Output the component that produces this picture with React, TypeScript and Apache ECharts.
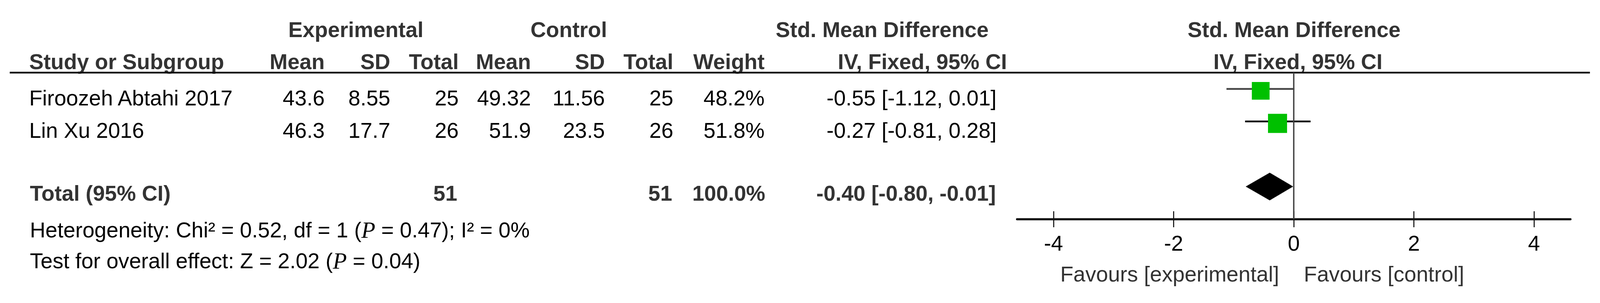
import React, { useEffect, useRef, useState } from "react";
import * as echarts from "echarts";

// ---- data ----
const studies = ["Firoozeh Abtahi 2017", "Lin Xu 2016"];
const expMean = [43.6, 46.3];
const expSD = [8.55, 17.7];
const expTotal = [25, 26];
const ctrlMean = [49.32, 51.9];
const ctrlSD = [11.56, 23.5];
const ctrlTotal = [25, 26];
const weights = [48.2, 51.8];
const smd = [-0.55, -0.27];
const ciLow = [-1.12, -0.81];
const ciHigh = [0.01, 0.28];
const totalSmd = [-0.4];
const totalLow = [-0.8];
const totalHigh = [-0.01];
const hetChi2 = 0.52;
const hetDf = 1;
const hetP = 0.47;
const hetI2 = 0;
const zValue = 2.02;
const zP = 0.04;
const axisTicks = [-4, -2, 0, 2, 4];
const favourLabels = ["Favours [experimental]", "Favours [control]"];

const FONT = "'Liberation Sans', Arial, Helvetica, sans-serif";
const SERIF = "'Liberation Serif', 'Times New Roman', serif";
const DW = 4608;
const DH = 776;

const f2 = (v: number) => v.toFixed(2);
const ciText = (e: number, l: number, h: number) => `${f2(e)} [${f2(l)}, ${f2(h)}]`;

export default function App() {
  const ref = useRef<HTMLDivElement>(null);
  const [size] = useState(() => {
    const w = typeof window !== "undefined" && window.innerWidth ? window.innerWidth : DW;
    const h = typeof window !== "undefined" && window.innerHeight ? window.innerHeight : DH;
    return { w, h };
  });

  useEffect(() => {
    document.body.style.margin = "0";
    document.body.style.overflow = "hidden";
    document.documentElement.style.overflow = "hidden";
    const W = size.w;
    const H = size.h;
    const sx = W / DW;
    const sy = H / DH;
    const s = Math.min(sx, sy);
    const X = (v: number) => v * sx;
    const Y = (v: number) => v * sy;
    const S = (v: number) => v * s;
    const FS = S(62);

    const chart = echarts.init(ref.current as HTMLDivElement, null, { renderer: "svg", width: W, height: H });

    function txt(x: number, y: number, text: string, align: string, bold: boolean, color?: string, extra?: any) {
      return {
        type: "text",
        x: X(x),
        y: Y(y),
        silent: true,
        style: Object.assign(
          {
            text,
            fontFamily: FONT,
            fontSize: FS,
            fontWeight: bold ? "bold" : "normal",
            fill: color || (bold ? "#333" : "#000"),
            align,
            textAlign: align,
            verticalAlign: "middle",
            textVerticalAlign: "middle",
          },
          extra || {}
        ),
      };
    }

    const col = {
      name: 84,
      eMean: 935,
      eSD: 1124,
      eTot: 1321,
      cMean: 1529,
      cSD: 1742,
      cTot: 1939,
      weight: 2202,
      ci: 2870,
    };
    const rowY = [251, 334];
    const totalY = 495;

    const g: any[] = [];
    // header row 1
    g.push(txt(1025, 76, "Experimental", "center", true));
    g.push(txt(1638, 76, "Control", "center", true));
    g.push(txt(2234, 76, "Std. Mean Difference", "left", true));
    g.push(txt(3727, 76, "Std. Mean Difference", "center", true));
    // header row 2
    const hy = 158;
    g.push(txt(col.name, hy, "Study or Subgroup", "left", true));
    g.push(txt(col.eMean, hy, "Mean", "right", true));
    g.push(txt(col.eSD, hy, "SD", "right", true));
    g.push(txt(col.eTot, hy, "Total", "right", true));
    g.push(txt(col.cMean, hy, "Mean", "right", true));
    g.push(txt(col.cSD, hy, "SD", "right", true));
    g.push(txt(col.cTot, hy, "Total", "right", true));
    g.push(txt(col.weight, hy, "Weight", "right", true));
    g.push(txt(2900, hy, "IV, Fixed, 95% CI", "right", true));
    g.push(txt(3738, hy, "IV, Fixed, 95% CI", "center", true));
    // header underline
    g.push({
      type: "line",
      silent: true,
      shape: { x1: X(28), y1: Y(186), x2: X(4579), y2: Y(186) },
      style: { stroke: "#111", lineWidth: S(5) },
    });
    // study rows
    studies.forEach((st, i) => {
      const y = rowY[i];
      g.push(txt(col.name, y, st, "left", false));
      g.push(txt(col.eMean, y, String(expMean[i]), "right", false));
      g.push(txt(col.eSD, y, String(expSD[i]), "right", false));
      g.push(txt(col.eTot, y, String(expTotal[i]), "right", false));
      g.push(txt(col.cMean, y, String(ctrlMean[i]), "right", false));
      g.push(txt(col.cSD, y, String(ctrlSD[i]), "right", false));
      g.push(txt(col.cTot, y, String(ctrlTotal[i]), "right", false));
      g.push(txt(col.weight, y, weights[i].toFixed(1) + "%", "right", false));
      g.push(txt(col.ci, y, ciText(smd[i], ciLow[i], ciHigh[i]), "right", false));
    });
    // total row
    const sumE = expTotal.reduce((a, b) => a + b, 0);
    const sumC = ctrlTotal.reduce((a, b) => a + b, 0);
    const sumW = weights.reduce((a, b) => a + b, 0);
    g.push(txt(86, totalY, "Total (95% CI)", "left", true));
    g.push(txt(col.eTot - 4, totalY, String(sumE), "right", true));
    g.push(txt(col.cTot - 3, totalY, String(sumC), "right", true));
    g.push(txt(col.weight + 2, totalY, sumW.toFixed(1) + "%", "right", true));
    g.push(txt(col.ci - 2, totalY, ciText(totalSmd[0], totalLow[0], totalHigh[0]), "right", true));
    // heterogeneity & test
    const rich = {
      p: { fontFamily: SERIF, fontStyle: "italic", fontSize: S(66), fill: "#000" },
    };
    g.push(
      txt(
        86,
        589,
        `Heterogeneity: Chi² = ${hetChi2.toFixed(2)}, df = ${hetDf} ({p|P} = ${hetP.toFixed(2)}); I² = ${hetI2}%`,
        "left",
        false,
        "#000",
        { rich }
      )
    );
    g.push(
      txt(86, 668, `Test for overall effect: Z = ${zValue.toFixed(2)} ({p|P} = ${zP.toFixed(2)})`, "left", false, "#000", {
        rich,
      })
    );
    // favours labels
    g.push(txt(3684, 702, favourLabels[0], "right", false, "#333"));
    g.push(txt(3755, 702, favourLabels[1], "left", false, "#333"));

    const studyData = studies.map((_, i) => [smd[i], ciLow[i], ciHigh[i], weights[i], i]);
    const totalRow = studies.length + 1;
    const lineColors = ["#444", "#000"];

    const gridTop = 186;
    const gridH = 375;
    const xBase = {
      type: "value",
      min: -4.607,
      max: 4.607,
      splitLine: { show: false },
    };

    const option: any = {
      animation: false,
      backgroundColor: "#fff",
      grid: { left: X(2929), width: X(1594), top: Y(gridTop), height: Y(gridH), containLabel: false },
      xAxis: [
        Object.assign({}, xBase, {
          position: "bottom",
          axisLine: { show: true, onZero: false, lineStyle: { color: "#111", width: S(6) } },
          axisTick: {
            show: true,
            inside: false,
            length: Y(21),
            customValues: axisTicks,
            lineStyle: { color: "#111", width: S(3) },
          },
          axisLabel: {
            show: true,
            customValues: axisTicks,
            margin: Y(34),
            fontSize: FS,
            fontFamily: FONT,
            color: "#000",
          },
        }),
        Object.assign({}, xBase, {
          position: "top",
          offset: -Y(gridH),
          axisLine: { show: false, onZero: false },
          axisTick: {
            show: true,
            inside: false,
            length: Y(20),
            customValues: axisTicks,
            lineStyle: { color: "#111", width: S(3) },
          },
          axisLabel: { show: false },
        }),
      ],
      yAxis: { type: "value", min: -0.5, max: 4, inverse: true, show: false },
      series: [
        {
          type: "custom",
          xAxisIndex: 0,
          yAxisIndex: 0,
          data: studyData,
          renderItem: (params: any, api: any) => {
            const est = api.value(0);
            const lo = api.value(1);
            const hi = api.value(2);
            const w = api.value(3);
            const row = api.value(4);
            const pLo = api.coord([lo, row]);
            const pHi = api.coord([hi, row]);
            const pE = api.coord([est, row]);
            const sz = S(w * 1.06);
            return {
              type: "group",
              children: [
                {
                  type: "line",
                  shape: { x1: pLo[0], y1: pLo[1], x2: pHi[0], y2: pHi[1] },
                  style: { stroke: lineColors[params.dataIndex % lineColors.length], lineWidth: S(5) },
                },
                {
                  type: "rect",
                  shape: { x: pE[0] - sz / 2, y: pE[1] - sz / 2 + Y(5), width: sz, height: sz },
                  style: { fill: "#00C000" },
                },
              ],
            };
          },
          markLine: {
            silent: true,
            symbol: ["none", "none"],
            label: { show: false },
            lineStyle: { color: "#444", width: S(4), type: "solid" },
            data: [{ xAxis: 0 }],
          },
          z: 2,
        },
        {
          type: "custom",
          xAxisIndex: 0,
          yAxisIndex: 0,
          data: totalSmd.map((e, i) => [e, totalLow[i], totalHigh[i], totalRow]),
          renderItem: (params: any, api: any) => {
            const est = api.value(0);
            const lo = api.value(1);
            const hi = api.value(2);
            const row = api.value(3);
            const pLo = api.coord([lo, row]);
            const pHi = api.coord([hi, row]);
            const pE = api.coord([est, row]);
            const h = Y(35.5);
            return {
              type: "polygon",
              shape: {
                points: [
                  [pLo[0], pLo[1]],
                  [pE[0], pE[1] - h],
                  [pHi[0], pHi[1]],
                  [pE[0], pE[1] + h],
                ],
              },
              style: { fill: "#000" },
            };
          },
          z: 3,
        },
      ],
      graphic: { elements: g },
    };

    chart.setOption(option);
    return () => chart.dispose();
  }, [size]);

  return <div ref={ref} style={{ width: size.w, height: size.h, overflow: "hidden" }} />;
}
